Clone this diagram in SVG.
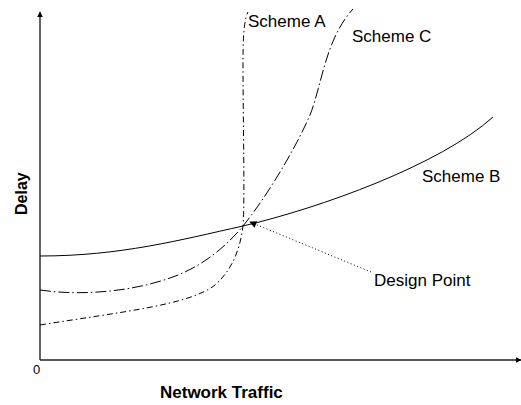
<svg xmlns="http://www.w3.org/2000/svg" width="521" height="405" viewBox="0 0 521 405">
<style>
  text { font-family: "Liberation Sans", Arial, sans-serif; fill: #000; }
  .lbl { font-size: 17px; }
  .bold { font-size: 17px; font-weight: bold; }
  .axis { stroke: #222; stroke-width: 1.4; fill: none; }
  .curve { stroke: #000; stroke-width: 1; fill: none; }
  .a { stroke-dasharray: 6 3 1.5 3; }
  .c { stroke-dasharray: 11 3 1.5 3; }
  .dot { stroke: #000; stroke-width: 1; stroke-dasharray: 1 2.5; fill: none; }
</style>
<defs>
  <marker id="ah" viewBox="0 0 10 10" refX="9" refY="5" markerWidth="6" markerHeight="6" orient="auto" markerUnits="userSpaceOnUse">
    <path d="M0,0 L10,5 L0,10 Z" fill="#000"/>
  </marker>
  <marker id="dp" viewBox="0 0 10 10" refX="9" refY="5" markerWidth="9" markerHeight="7" orient="auto" markerUnits="userSpaceOnUse">
    <path d="M0,0 L10,5 L0,10 Z" fill="#000"/>
  </marker>
</defs>
<g id="axes">
  <path class="axis" d="M40,360 L40,12" marker-end="url(#ah)"/>
  <path class="axis" d="M40,360 L521,360" marker-end="url(#ah)"/>
  <text x="33" y="374" style="font-size:13px">0</text>
  <text class="bold" x="160" y="398">Network Traffic</text>
  <text class="bold" style="font-size:16px" transform="translate(27,215) rotate(-90)">Delay</text>
</g>
<g id="connectors">
  <path id="schemeB" class="curve" d="M40,256 C120,256 180,240 243,226 C320,208 440,165 493,117"/>
  <path id="schemeC" class="curve c" d="M40,290 C80,296 130,292 170,278 C200,268 225,248 243,226 C265,199 295,150 310,115 C322,85 325,40 353,9"/>
  <path id="schemeA" class="curve a" d="M40,325 C120,312 190,305 215,285 C232,270 240,250 243,226 C245,205 243,120 243,60 C243,30 245,18 248,12"/>
  <path id="designArrow" class="dot" d="M371,272 L250,222" marker-end="url(#dp)"/>
</g>
<g id="labels">
  <text id="lblA" class="lbl" x="248" y="27">Scheme A</text>
  <text id="lblC" class="lbl" x="352" y="42">Scheme C</text>
  <text id="lblB" class="lbl" x="422" y="182">Scheme B</text>
  <text id="lblDP" class="lbl" x="374" y="286">Design Point</text>
</g>
</svg>
